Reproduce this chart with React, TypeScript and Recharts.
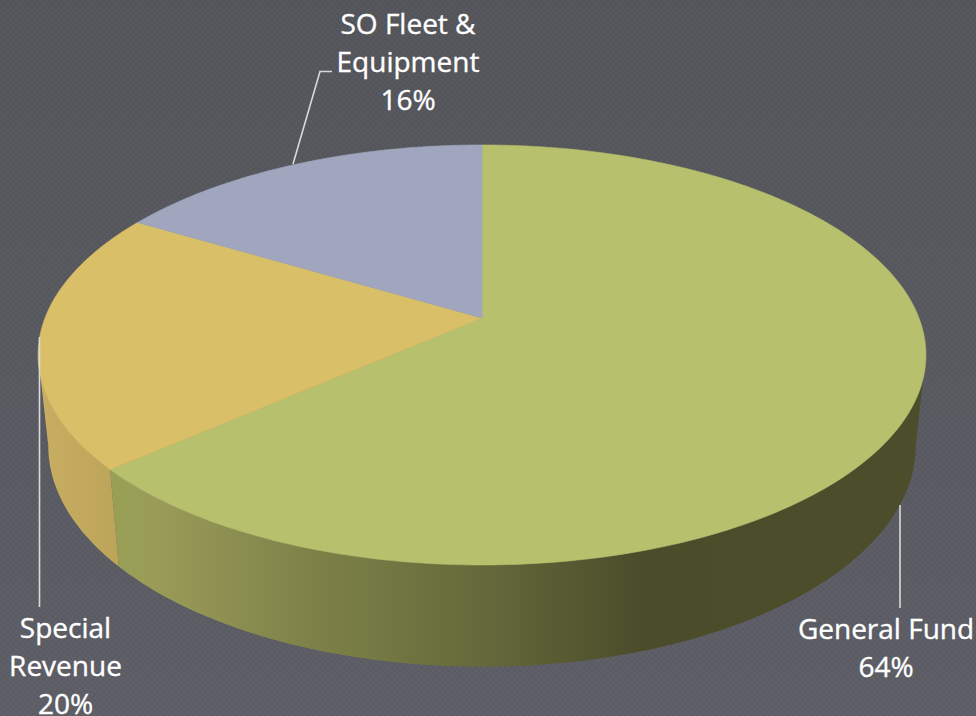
import { PieChart, Pie } from "recharts";

const categories = ["General Fund", "Special Revenue", "SO Fleet & Equipment"];
const shares = [63.55, 20.0, 16.45];
const sliceColors = ["#b7c06c", "#d9bf68", "#a0a6bd"];
const wallFills = ["url(#wallGeneral)", "url(#wallSpecial)", "#7d8194"];
const labelLines = [["General Fund"], ["Special", "Revenue"], ["SO Fleet &", "Equipment"]];

const data = categories.map((name, i) => ({
  name,
  value: shares[i],
  fill: sliceColors[i],
  wall: wallFills[i],
}));

// label placement and leader lines
const labelAnchors = [
  { x: 886, y: 638.5 },
  { x: 65.5, y: 638 },
  { x: 408, y: 34 },
];
const leaders = [
  "M900 505 L900 608",
  "M39.5 337 L39.5 607",
  "M293 164 L320 71.5 L332 71.5",
];

const PERSPECTIVE = 0.176;
const FACE_RATIO = 0.4657;
const BASE_WIDTH = 0.977;
const BASE_RATIO = 0.4897;
const BASE_DROP = 0.2037;
const FONT = "'Open Sans', sans-serif";

// recharts angle -> point on the tilted disc
function facePoint(cx: number, cy: number, r: number, angle: number) {
  const rad = (angle * Math.PI) / 180;
  const u = Math.cos(rad);
  const v = -Math.sin(rad);
  const w = 1 - PERSPECTIVE * v;
  return [cx + (r * u) / w, cy + (r * FACE_RATIO * v) / w];
}

function basePoint(cx: number, cy: number, r: number, angle: number) {
  const rad = (angle * Math.PI) / 180;
  const u = Math.cos(rad);
  const v = -Math.sin(rad);
  const w = 1 - PERSPECTIVE * v;
  return [cx + (r * BASE_WIDTH * u) / w, cy + r * BASE_DROP + (r * BASE_RATIO * v) / w];
}

function sweep(a: number, b: number) {
  const steps = Math.max(2, Math.ceil(Math.abs(a - b)));
  const out: number[] = [];
  for (let i = 0; i <= steps; i++) out.push(a + ((b - a) * i) / steps);
  return out;
}

function toPath(points: number[][]) {
  return points.map((p, i) => `${i ? "L" : "M"}${p[0].toFixed(2)} ${p[1].toFixed(2)}`).join(" ");
}

function FaceShape(props: any) {
  const { cx, cy, outerRadius, startAngle, endAngle, fill } = props;
  const arc = sweep(startAngle, endAngle).map((a) => facePoint(cx, cy, outerRadius, a));
  return <path d={`M${cx} ${cy} ${toPath(arc).replace("M", "L")} Z`} fill={fill} stroke={fill} strokeWidth={0.6} />;
}

function WallShape(props: any) {
  const { cx, cy, outerRadius, startAngle, endAngle, payload } = props;
  // only the front of the rim can be seen
  const from = Math.min(startAngle, -10.1);
  const to = Math.max(endAngle, -169.9);
  if (from <= to) return <g />;
  const angles = sweep(from, to);
  const top = angles.map((a) => facePoint(cx, cy, outerRadius, a));
  const bottom = angles.map((a) => basePoint(cx, cy, outerRadius, a)).reverse();
  return <path d={`${toPath(top.concat(bottom))} Z`} fill={payload.wall} />;
}

function SliceLabel(props: any) {
  const { index, percent } = props;
  const spot = labelAnchors[index];
  const lines = [...labelLines[index], `${Math.round(percent * 100)}%`];
  return (
    <g>
      <path d={leaders[index]} fill="none" stroke="#d9d9d9" strokeWidth={1.6} />
      <text
        x={spot.x}
        y={spot.y}
        textAnchor="middle"
        fill="#ffffff"
        stroke="#ffffff"
        strokeWidth={0.35}
        fontFamily={FONT}
        fontSize={28}
      >
        {lines.map((line, i) => (
          <tspan key={line} x={spot.x} dy={i ? 38 : 0}>
            {line}
          </tspan>
        ))}
      </text>
    </g>
  );
}

export default function App() {
  return (
    <div
      style={{
        position: "absolute",
        left: 0,
        top: 0,
        width: 976,
        height: 716,
        overflow: "hidden",
        backgroundColor: "#58595f",
        backgroundImage:
          "conic-gradient(rgba(255,255,255,0.025) 25%, transparent 0 50%, rgba(255,255,255,0.025) 0 75%, transparent 0), linear-gradient(#535459, #5b5c64)",
        backgroundSize: "6px 6px, 100% 100%",
      }}
    >
      <PieChart width={976} height={716} margin={{ top: 0, right: 0, bottom: 0, left: 0 }}>
        <defs>
          <linearGradient id="wallGeneral" gradientUnits="userSpaceOnUse" x1={112} y1={0} x2={925} y2={0}>
            <stop offset="0" stopColor="#98a055" />
            <stop offset="0.05" stopColor="#9a9c58" />
            <stop offset="0.25" stopColor="#7d8148" />
            <stop offset="0.45" stopColor="#666a3b" />
            <stop offset="0.65" stopColor="#4b4c2a" />
            <stop offset="1" stopColor="#4c4d2b" />
          </linearGradient>
          <linearGradient id="wallSpecial" gradientUnits="userSpaceOnUse" x1={38} y1={0} x2={118} y2={0}>
            <stop offset="0" stopColor="#c8ae62" />
            <stop offset="1" stopColor="#bca459" />
          </linearGradient>
        </defs>
        <Pie
          data={data}
          dataKey="value"
          nameKey="name"
          cx={482}
          cy={318}
          outerRadius={437}
          startAngle={90}
          endAngle={-270}
          stroke="none"
          shape={WallShape}
          isAnimationActive={false}
        />
        <Pie
          data={data}
          dataKey="value"
          nameKey="name"
          cx={482}
          cy={318}
          outerRadius={437}
          startAngle={90}
          endAngle={-270}
          stroke="none"
          shape={FaceShape}
          label={SliceLabel}
          labelLine={false}
          isAnimationActive={false}
        />
      </PieChart>
    </div>
  );
}
